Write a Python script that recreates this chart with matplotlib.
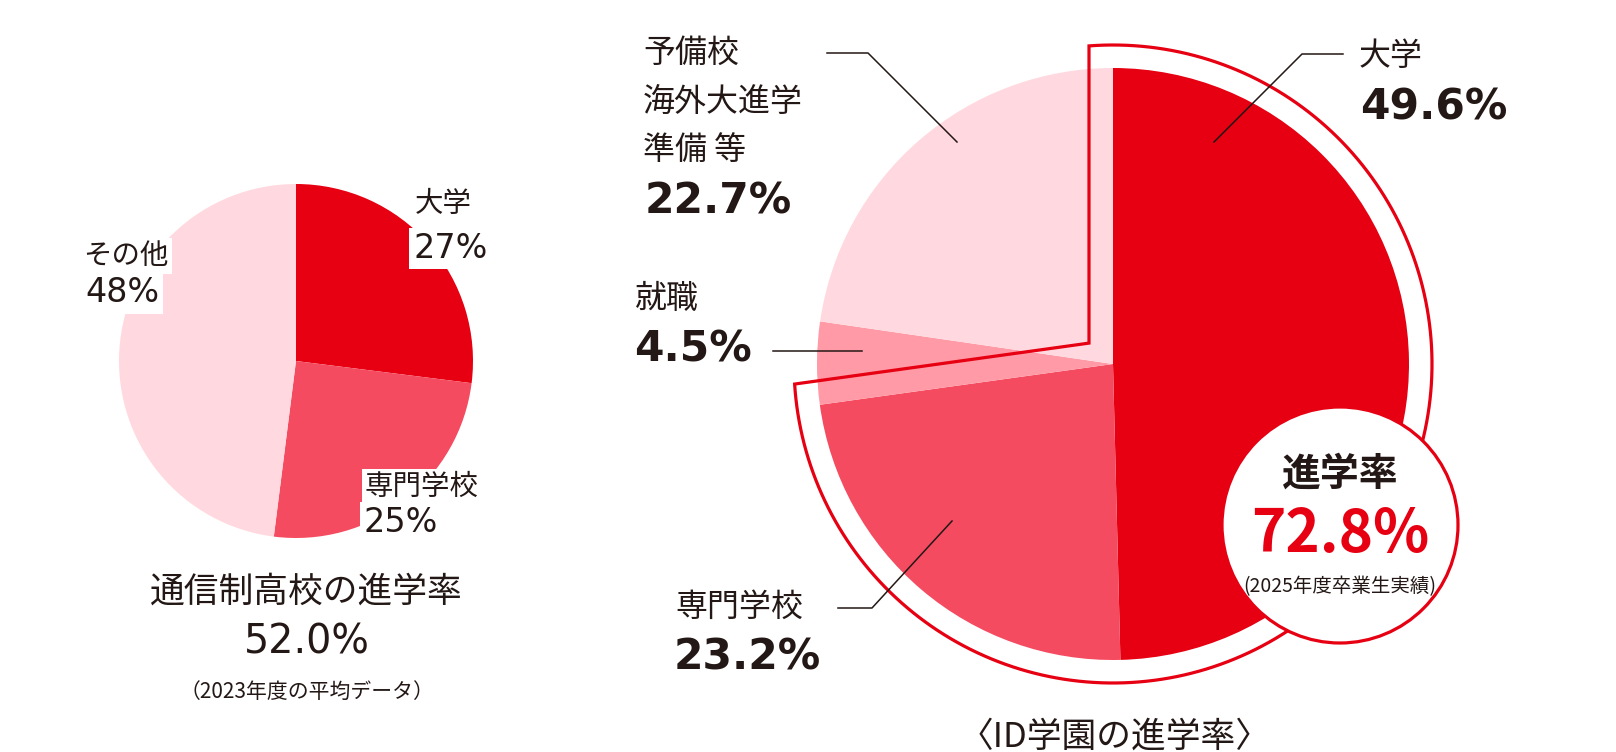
import numpy as np
import matplotlib.pyplot as plt
from matplotlib.patches import Circle, Polygon

plt.rcParams['font.family'] = ['Noto Sans CJK JP', 'DejaVu Sans']

W, H = 1616, 752

# 通信制高校の進学率 (2023年度の平均データ)
avg_labels = ['大学', '専門学校', 'その他']
avg_values = [27, 25, 48]
avg_rate = 52.0

# ID学園の進学率 (2025年度卒業生実績)
id_labels = ['大学', '専門学校', '就職', '予備校']
id_values = [49.6, 23.2, 4.5, 22.7]
id_rate = 72.8

RED = '#E60012'
MID = '#F54B60'
JOB = '#FF9AA6'
PINK = '#FFD9DF'
INK = '#231815'
NUM = ['DejaVu Sans']


def Y(y):
    # picture rows run downward, axes run upward
    return H - y


fig = plt.figure(figsize=(W / 100, H / 100), dpi=100)
ax = fig.add_axes([0, 0, 1, 1])

# small pie
ax.pie(avg_values, colors=[RED, MID, PINK], startangle=90, counterclock=False,
       center=(296, Y(361)), radius=177, wedgeprops=dict(linewidth=0))

# big pie
cx, cy, R = 1113, Y(364), 296
ax.pie(id_values, colors=[RED, MID, JOB, PINK], startangle=90, counterclock=False,
       center=(cx, cy), radius=R, wedgeprops=dict(linewidth=0))

# red outline round 大学 + 専門学校
d, Ro = 24, 319
frac = (id_values[0] + id_values[1]) / 100
a1 = np.pi / 2
a2 = np.pi / 2 - 2 * np.pi * frac
u1 = np.array([np.cos(a1), np.sin(a1)])
n1 = np.array([-np.sin(a1), np.cos(a1)])
u2 = np.array([np.cos(a2), np.sin(a2)])
n2 = np.array([np.sin(a2), -np.cos(a2)])
A = np.column_stack([u1, -u2])
ts = np.linalg.solve(A, d * n2 - d * n1)
apex = ts[0] * u1 + d * n1
t = np.sqrt(Ro ** 2 - d ** 2)
p1 = t * u1 + d * n1
p2 = t * u2 + d * n2
th1 = np.arctan2(p1[1], p1[0])
th2 = np.arctan2(p2[1], p2[0])
if th2 > th1:
    th2 -= 2 * np.pi
arc = np.linspace(th1, th2, 200)
pts = [apex] + [np.array([Ro * np.cos(a), Ro * np.sin(a)]) for a in arc] + [apex]
pts = np.array(pts) + np.array([cx, cy])
ax.add_patch(Polygon(pts, closed=True, fill=False, edgecolor=RED, linewidth=2.3,
                     joinstyle='miter', zorder=3))

# badge
ax.add_patch(Circle((1340, Y(525)), 118, facecolor='white', edgecolor=RED,
                    linewidth=2.3, zorder=4))
ax.text(1340, Y(474), '進学率', ha='center', va='center', fontsize=28,
        fontweight='bold', color=INK, zorder=5)
ax.text(1340, Y(535), f'{id_rate}%', ha='center', va='center', fontsize=42,
        fontweight='bold', color=RED, zorder=5)
ax.text(1340, Y(587), '(2025年度卒業生実績)', ha='center', va='center',
        fontsize=14, color=INK, zorder=5)

# leader lines
leaders = [
    [(827, 53), (868, 53), (957, 142)],
    [(773, 351), (862, 351)],
    [(1343, 54), (1302, 54), (1214, 142)],
    [(838, 608), (872, 608), (952, 521)],
]
for seg in leaders:
    xs = [p[0] for p in seg]
    ys = [Y(p[1]) for p in seg]
    ax.plot(xs, ys, color=INK, linewidth=1.1, zorder=3)

# big pie labels
lab = dict(ha='left', va='center', fontsize=23, color=INK)
big = dict(ha='left', va='center', fontsize=30.5, fontweight='bold', color=INK,
           family=NUM)
ax.text(643, Y(53), id_labels[3], **lab)
ax.text(643, Y(102), '海外大進学', **lab)
ax.text(643, Y(150), '準備 等', **lab)
ax.text(645, Y(201), f'{id_values[3]}%', **big)
ax.text(635, Y(299), id_labels[2], **lab)
ax.text(634, Y(349), f'{id_values[2]}%', **big)
ax.text(1359, Y(56), id_labels[0], **lab)
ax.text(1360, Y(107), f'{id_values[0]}%', **big)
ax.text(675, Y(607), id_labels[1], **lab)
ax.text(674, Y(657), f'{id_values[1]}%', **big)

# small pie labels
box = dict(boxstyle='square,pad=0.12', facecolor='white', edgecolor='none')
sl = dict(ha='left', va='center', fontsize=20.5, color=INK, bbox=box)
sv = dict(ha='left', va='center', fontsize=24, color=INK, bbox=box, family=NUM)
ax.text(415, Y(204), avg_labels[0], **sl)
ax.text(413, Y(248), f'{avg_values[0]}%', **sv)
ax.text(365, Y(487), avg_labels[1], **sl)
ax.text(364, Y(522), f'{avg_values[1]}%', **sv)
ax.text(83, Y(256), avg_labels[2], **sl)
ax.text(85, Y(293), f'{avg_values[2]}%', **sv)

ax.text(306, Y(592), '通信制高校の進学率', ha='center', va='center',
        fontsize=25, color=INK)
ax.text(307, Y(643), f'{avg_rate:.1f}%', ha='center', va='center',
        fontsize=28.5, color=INK, family=NUM)
ax.text(307, Y(692), '（2023年度の平均データ）', ha='center', va='center',
        fontsize=15, color=INK)

ax.text(1115, Y(737), '〈ID学園の進学率〉', ha='center', va='center',
        fontsize=25, color=INK)

ax.set_xlim(0, W)
ax.set_ylim(0, H)
ax.set_aspect('auto')
ax.axis('off')

fig.savefig('out.png', dpi=100, facecolor='white')
